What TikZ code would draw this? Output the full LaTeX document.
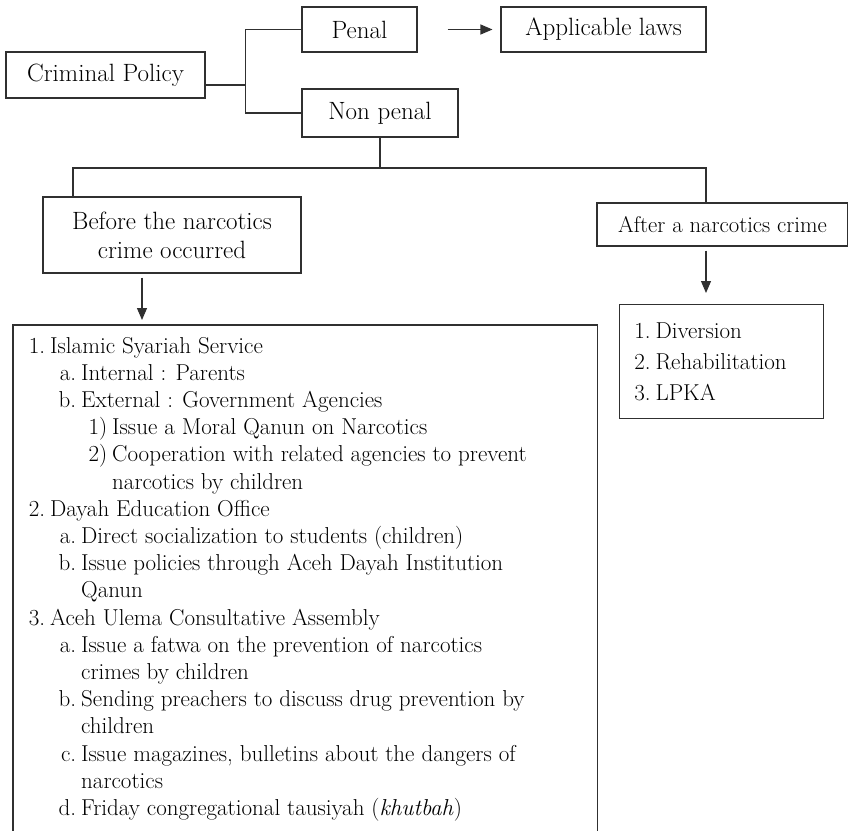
\documentclass[tikz,border=0pt]{standalone}
\usepackage{tikz}
\usetikzlibrary{arrows.meta}
\definecolor{cLine}{HTML}{303030}
\newcommand\lbl[1]{\makebox[24pt][r]{#1\hspace{5pt}}}

\begin{document}
\begin{tikzpicture}[x=1pt,y=-1pt,
  box/.style={draw=cLine,line width=1.1pt,inner sep=0pt,align=center,
    font=\fontsize{25}{29}\selectfont},
  item/.style={inner sep=0pt,anchor=base west,font=\fontsize{23}{27}\selectfont},
  conn/.style={draw=cLine,line width=1.1pt},
  arr/.style={conn,-{Triangle[length=12pt,width=10pt]}}]
  \useasboundingbox (0,0) rectangle (848,830);

  \node[box,minimum width=199,minimum height=46] (crim) at (105.5,75) {Criminal Policy};
  \node[box,minimum width=115,minimum height=45] (pen) at (359.5,29.5) {Penal};
  \node[box,minimum width=205,minimum height=45] (app) at (603.5,29.5) {Applicable laws};
  \node[box,minimum width=156,minimum height=48] (nonpen) at (380,113) {Non penal};
  \node[box,minimum width=258,minimum height=76] (before) at (172,235)
    {Before the narcotics\\crime occurred};
  \node[box,minimum width=251,minimum height=43,font=\fontsize{22.7}{27}\selectfont]
    (after) at (722.5,224.5) {After a narcotics crime};
  \node[box,anchor=north west,minimum width=204,minimum height=114,align=left,
    text width=180,inner xsep=12pt,font=\fontsize{23}{31}\selectfont]
    (lpka) at (619,304) {\lbl{1.}Diversion\\\lbl{2.}Rehabilitation\\\lbl{3.}LPKA};

  % open box, runs off the page
  \node[anchor=north west,minimum width=584,minimum height=520,inner sep=0pt] (big) at (13,325) {};
  \draw[conn] (big.south west) -- (big.north west) -- (big.north east) -- (big.south east);
  \foreach \x/\lab/\txt [count=\i] in {
    26/1./{Islamic Syariah Service},
    57/a./{Internal : Parents},
    57/b./{External : Government Agencies},
    88/1)/{Issue a Moral Qanun on Narcotics},
    88/2)/{Cooperation with related agencies to prevent},
    88//{narcotics by children},
    26/2./{Dayah Education Office},
    57/a./{Direct socialization to students (children)},
    57/b./{Issue policies through Aceh Dayah Institution},
    57//{Qanun},
    26/3./{Aceh Ulema Consultative Assembly},
    57/a./{Issue a fatwa on the prevention of narcotics},
    57//{crimes by children},
    57/b./{Sending preachers to discuss drug prevention by},
    57//{children},
    57/c./{Issue magazines, bulletins about the dangers of},
    57//{narcotics},
    57/d./{Friday congregational tausiyah (\textit{khutbah})}}
    \node[item] (ln\i) at (\x,325.8+27.2*\i) {\lbl{\lab}\txt};

  % connectors
  \coordinate (fork) at ([xshift=40pt,yshift=-10pt]crim.east);
  \draw[conn] ([yshift=-10pt]crim.east) -- (fork);
  \draw[conn] (pen.west) -| (fork) |- (nonpen.west);
  \draw[arr] ([xshift=30pt]pen.east) -- ([xshift=-8pt]app.west);

  \coordinate (busL) at (73,168);
  \coordinate (busR) at (706,168);
  \draw[conn] (nonpen.south) -- (nonpen.south |- busL);
  \draw[conn] (before.north -| busL) -- (busL) -- (busR) -- (after.north -| busR);

  \coordinate (bIn) at ([xshift=-30pt]before.south);
  \draw[arr,shorten <=4pt,shorten >=5pt] (bIn) -- (bIn |- big.north);
  \draw[arr,shorten <=4pt,shorten >=11pt] (after.south -| busR) -- (lpka.north -| busR);
\end{tikzpicture}
\end{document}
